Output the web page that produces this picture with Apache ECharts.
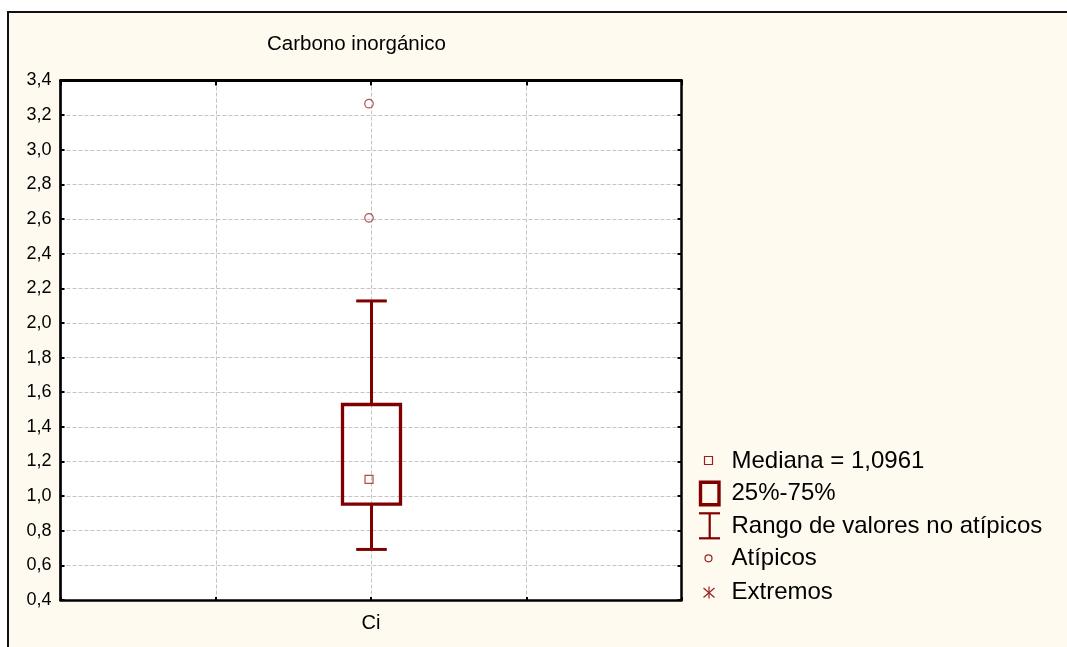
<!DOCTYPE html>
<html>
<head>
<meta charset="utf-8">
<script src="https://cdn.jsdelivr.net/npm/echarts@6/dist/echarts.min.js"></script>
<style>
  html, body { margin: 0; padding: 0; background: #ffffff; overflow: hidden; }
  #frame { position: absolute; left: 7px; top: 11px; width: 2000px; height: 2000px;
           border-top: 2px solid #111; border-left: 2px solid #111; background: #fffaf0; }
  #chart { position: absolute; left: 0; top: 0; width: 1067px; height: 647px; }
</style>
</head>
<body>
<div id="frame"></div>
<div id="chart"></div>
<script>
// ---- data ----
const chartTitle = 'Carbono inorgánico';
const categories = ['Ci'];
// [min (non-outlier), Q1, median, Q3, max (non-outlier)]
const boxStats = [[0.692, 0.954, 1.0961, 1.529, 2.127]];
const outlierValues = [[2.607, 3.266]];
const yMin = 0.4, yMax = 3.4, yStep = 0.2;
const legendLabels = ['Mediana = 1,0961', '25%-75%', 'Rango de valores no atípicos', 'Atípicos', 'Extremos'];

// ---- build ----
const pad = 2;
const xSlots = [];
for (let i = 0; i < pad; i++) xSlots.push('');
categories.forEach(c => xSlots.push(c));
for (let i = 0; i < pad; i++) xSlots.push('');

const boxData = boxStats.map((s, i) => [pad + i].concat(s));
const medianData = boxStats.map((s, i) => [pad + i, s[2]]);
const outlierData = [];
outlierValues.forEach((arr, i) => arr.forEach(v => outlierData.push([pad + i, v])));

const dark = '#800000';
const markColor = '#9a2020';
const font = 'Liberation Sans, Arial, sans-serif';
const fmt = v => v.toFixed(1).replace('.', ',');

const chart = echarts.init(document.getElementById('chart'), null, { renderer: 'canvas' });

const legendX = 731.5;
const legendY = [461, 493.5, 526, 558, 592];
const graphics = [];
legendLabels.forEach((t, i) => {
  graphics.push({ type: 'text', x: legendX, y: legendY[i],
    style: { text: t, font: '24px ' + font, fill: '#000', textVerticalAlign: 'middle', textAlign: 'left' } });
});
graphics.push({ type: 'rect', shape: { x: 704.5, y: 456.5, width: 8, height: 8 },
  style: { fill: 'none', stroke: markColor, lineWidth: 1.2 } });
graphics.push({ type: 'rect', shape: { x: 700.5, y: 482.3, width: 18.5, height: 22.5 },
  style: { fill: 'none', stroke: dark, lineWidth: 3.4 } });
graphics.push({ type: 'line', shape: { x1: 699, y1: 513.3, x2: 720, y2: 513.3 }, style: { stroke: dark, lineWidth: 2.2 } });
graphics.push({ type: 'line', shape: { x1: 699, y1: 538.3, x2: 720, y2: 538.3 }, style: { stroke: dark, lineWidth: 2.2 } });
graphics.push({ type: 'line', shape: { x1: 709.7, y1: 513.3, x2: 709.7, y2: 538.3 }, style: { stroke: dark, lineWidth: 2.2 } });
graphics.push({ type: 'circle', shape: { cx: 708.5, cy: 558.3, r: 3.5 }, style: { fill: 'none', stroke: markColor, lineWidth: 1.2 } });
graphics.push({ type: 'line', shape: { x1: 709, y1: 586.5, x2: 709, y2: 598.5 }, style: { stroke: markColor, lineWidth: 1.2 } });
graphics.push({ type: 'line', shape: { x1: 703.5, y1: 588, x2: 714.5, y2: 597.5 }, style: { stroke: markColor, lineWidth: 1.2 } });
graphics.push({ type: 'line', shape: { x1: 714.5, y1: 588, x2: 703.5, y2: 597.5 }, style: { stroke: markColor, lineWidth: 1.2 } });

const gridDash = { color: '#c4c4c4', width: 1, type: [4, 2] };

const option = {
  backgroundColor: 'transparent',
  animation: false,
  title: {
    text: chartTitle, left: 267, top: 34, padding: 0,
    textStyle: { fontFamily: font, fontSize: 20.5, fontWeight: 'normal', color: '#000' }
  },
  grid: { left: 60.5, right: 385.5, top: 80.5, bottom: 47, show: true, backgroundColor: '#ffffff', borderWidth: 0, containLabel: false },
  xAxis: [
    {
      type: 'category', data: xSlots, boundaryGap: false, position: 'bottom',
      axisLine: { show: true, lineStyle: { color: '#000', width: 2.7 } },
      axisTick: { show: true, inside: true, length: 3, interval: 0, lineStyle: { color: '#000', width: 2 } },
      axisLabel: { show: true, interval: 0, margin: 13, fontFamily: font, fontSize: 20, color: '#000' },
      splitLine: { show: true, interval: 0, lineStyle: gridDash }
    },
    {
      type: 'category', data: xSlots, boundaryGap: false, position: 'top',
      axisLine: { show: true, lineStyle: { color: '#000', width: 3 } },
      axisTick: { show: true, inside: true, length: 5, interval: 0, lineStyle: { color: '#000', width: 2 } },
      axisLabel: { show: false },
      splitLine: { show: false }
    }
  ],
  yAxis: [
    {
      type: 'value', min: yMin, max: yMax, interval: yStep, position: 'left',
      axisLine: { show: true, lineStyle: { color: '#000', width: 2.7 } },
      axisTick: { show: true, inside: true, length: 4, lineStyle: { color: '#000', width: 2 } },
      axisLabel: { margin: 9, fontFamily: font, fontSize: 18, color: '#000', formatter: fmt },
      splitLine: { show: true, lineStyle: gridDash }
    },
    {
      type: 'value', min: yMin, max: yMax, interval: yStep, position: 'right',
      axisLine: { show: true, lineStyle: { color: '#000', width: 2.5 } },
      axisTick: { show: true, inside: true, length: 4, lineStyle: { color: '#000', width: 2 } },
      axisLabel: { show: false },
      splitLine: { show: false }
    }
  ],
  graphic: { elements: graphics },
  series: [
    {
      type: 'custom', name: 'box', xAxisIndex: 0, yAxisIndex: 0,
      data: boxData,
      encode: { x: 0, y: [1, 2, 3, 4, 5] },
      renderItem: function (params, api) {
        const x = api.value(0);
        const pMin = api.coord([x, api.value(1)]);
        const pQ1 = api.coord([x, api.value(2)]);
        const pQ3 = api.coord([x, api.value(4)]);
        const pMax = api.coord([x, api.value(5)]);
        const cx = pMin[0] + 0.5;
        const halfBox = 29, halfCap = 15.3;
        const ls = { stroke: dark, lineWidth: 3, fill: 'none' };
        return {
          type: 'group',
          children: [
            { type: 'line', shape: { x1: cx, y1: pQ3[1], x2: cx, y2: pMax[1] }, style: ls },
            { type: 'line', shape: { x1: cx - halfCap, y1: pMax[1], x2: cx + halfCap, y2: pMax[1] }, style: ls },
            { type: 'line', shape: { x1: cx, y1: pQ1[1], x2: cx, y2: pMin[1] }, style: ls },
            { type: 'line', shape: { x1: cx - halfCap, y1: pMin[1], x2: cx + halfCap, y2: pMin[1] }, style: ls },
            { type: 'rect', shape: { x: cx - halfBox, y: pQ3[1], width: 2 * halfBox, height: pQ1[1] - pQ3[1] },
              style: { stroke: dark, lineWidth: 3.3, fill: 'none' } }
          ]
        };
      },
      z: 3
    },
    {
      type: 'scatter', name: 'Mediana', data: medianData,
      symbol: 'rect', symbolSize: 8, symbolOffset: [-2, 0],
      itemStyle: { color: 'rgba(0,0,0,0)', borderColor: markColor, borderWidth: 1.2 },
      z: 4
    },
    {
      type: 'scatter', name: 'Atípicos', data: outlierData,
      symbol: 'circle', symbolSize: 8.5, symbolOffset: [-2, 0],
      itemStyle: { color: 'rgba(0,0,0,0)', borderColor: markColor, borderWidth: 1.2 },
      z: 4
    }
  ]
};
chart.setOption(option);
</script>
</body>
</html>
